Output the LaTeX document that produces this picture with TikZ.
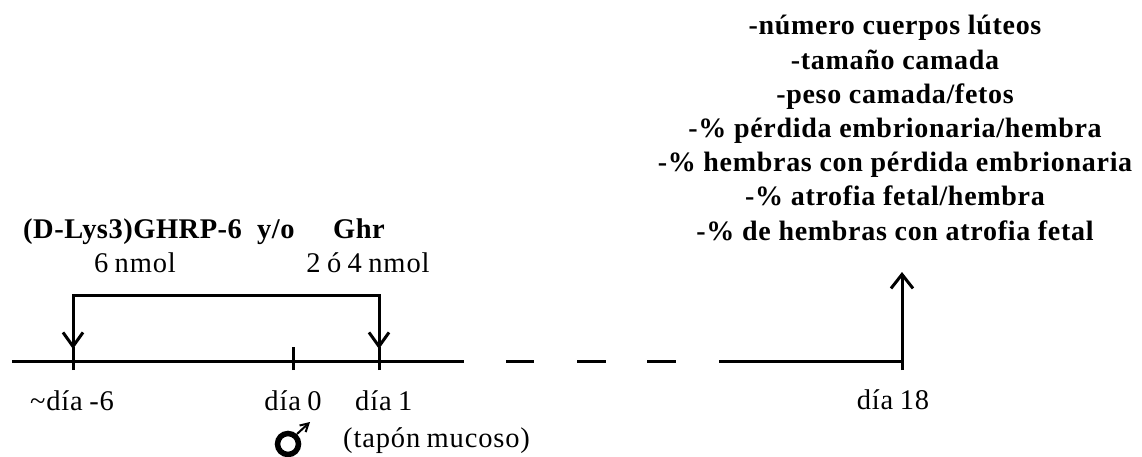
\documentclass[tikz,border=0pt]{standalone}
\usepackage{fontspec}
\setmainfont{Liberation Serif}
\newfontfamily\lblfont[WordSpace=0.8,LetterSpace=3]{Liberation Serif}
\newfontfamily\headfont[LetterSpace=1.8]{Liberation Serif}
\newfontfamily\listfont[LetterSpace=2.5]{Liberation Serif}
\usetikzlibrary{arrows.meta}
\begin{document}
\begin{tikzpicture}[x=1pt,y=-1pt,
  axis/.style={line width=3pt},
  tick/.style={line width=3pt},
  barb/.style={line width=3pt,line join=miter},
  lbl/.style={inner sep=0pt,anchor=base,font=\lblfont\fontsize{28.5}{34}\selectfont},
  head/.style={inner sep=0pt,anchor=base west,font=\headfont\fontsize{28.5}{34}\selectfont\bfseries},
  outcome/.style={inner sep=0pt,align=center,font=\listfont\fontsize{28}{34.2}\selectfont\bfseries}]
\path[use as bounding box] (0,0) rectangle (1142,457);

% timeline positions
\coordinate (start) at (12,361);
\coordinate (dm6) at (73,361);
\coordinate (d0) at (293,361);
\coordinate (d1) at (379,361);
\coordinate (d18) at (902,361);

% time axis, broken between day 1 and day 18
\draw[axis,dash pattern=on 452pt off 42pt on 28pt off 43pt on 29pt off 41pt on 29pt off 43pt on 200pt]
  (start) -- (d18);
\foreach \c in {dm6,d0,d1,d18}
  \draw[tick] ([yshift=-9pt]\c) -- ([yshift=14pt]\c);

% treatment bracket
\coordinate (tm6) at (73,295);
\coordinate (t1) at (379,295);
\coordinate (am6) at (73,349);
\coordinate (a1) at (379,349);
\draw[barb,{Straight Barb[length=14pt,width=20pt,line width=3pt]}-{Straight Barb[length=14pt,width=20pt,line width=3pt]}]
  (am6) -- (tm6) -- (t1) -- (a1);

% evaluation arrow at day 18
\coordinate (e0) at (902,348);
\coordinate (e1) at (902,272);
\draw[barb,-{Straight Barb[length=14pt,width=22pt,line width=3pt]}] (e0) -- (e1);

% treatment labels
\node[head] (drug) at (23,238) {(D-Lys3)GHRP-6};
\node[head] (yo) at (257,238) {y/o};
\node[head] (ghr) at (333,238) {Ghr};
\node[lbl] (dose1) at (135,272) {6 nmol};
\node[lbl] (dose2) at (368,272) {2 ó 4 nmol};

% day labels
\node[lbl] (ldm6) at (72,410) {\char`\~día -6};
\node[lbl] (ld0) at (293,410) {día 0};
\node[lbl,anchor=base west] (ld1) at (355,410) {día 1};
\node[lbl,anchor=base west] (plug) at (343,447) {(tapón mucoso)};
\node[lbl] (ld18) at (893,409) {día 18};

% male symbol under day 0
\coordinate (mc) at (288,444);
\draw[line width=5.5pt] (mc) circle (10.5pt);
\draw[line width=2pt,-{Straight Barb[length=8pt,width=9pt,line width=2pt]}]
  (297,434) -- (310,422);

% outcome measures
\node[outcome] (list) at (895,128) {-número cuerpos lúteos\\
-tamaño camada\\
-peso camada/fetos\\
-\% pérdida embrionaria/hembra\\
-\% hembras con pérdida embrionaria\\
-\% atrofia fetal/hembra\\
-\% de hembras con atrofia fetal};
\end{tikzpicture}
\end{document}
